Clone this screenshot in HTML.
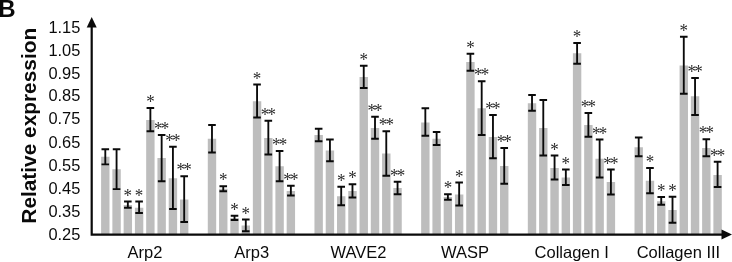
<!DOCTYPE html>
<html><head><meta charset="utf-8"><title>B</title>
<style>html,body{margin:0;padding:0;background:#fff}body{width:732px;height:262px;overflow:hidden}
.t{font-family:"Liberation Sans",sans-serif;fill:#0a0a0a}
.st{font-family:"Liberation Serif",serif;fill:#2c2c2c}
</style></head><body>
<svg width="732" height="262" viewBox="0 0 732 262" style="display:block;will-change:transform">
<rect width="732" height="262" fill="#fff"/>
<rect x="101.10" y="156.75" width="8.4" height="77.85" fill="#bdbdbd"/>
<rect x="112.37" y="169.25" width="8.4" height="65.35" fill="#bdbdbd"/>
<rect x="123.64" y="205.00" width="8.4" height="29.60" fill="#bdbdbd"/>
<rect x="134.91" y="207.75" width="8.4" height="26.85" fill="#bdbdbd"/>
<rect x="146.18" y="120.00" width="8.4" height="114.60" fill="#bdbdbd"/>
<rect x="157.45" y="158.00" width="8.4" height="76.60" fill="#bdbdbd"/>
<rect x="168.72" y="178.25" width="8.4" height="56.35" fill="#bdbdbd"/>
<rect x="179.99" y="199.50" width="8.4" height="35.10" fill="#bdbdbd"/>
<path d="M105.30 149.25V164.40M101.50 149.25H109.10M101.50 164.40H109.10" stroke="#0a0a0a" stroke-width="1.85" fill="none"/>
<path d="M116.57 149.25V189.10M112.77 149.25H120.37M112.77 189.10H120.37" stroke="#0a0a0a" stroke-width="1.85" fill="none"/>
<path d="M127.84 201.50V207.75M124.04 201.50H131.64M124.04 207.75H131.64" stroke="#0a0a0a" stroke-width="1.85" fill="none"/>
<text transform="translate(127.84,192.50) scale(1,1.16)" x="0" y="7.85" text-anchor="middle" font-size="17" class="st">*</text>
<path d="M139.11 201.50V213.00M135.31 201.50H142.91M135.31 213.00H142.91" stroke="#0a0a0a" stroke-width="1.85" fill="none"/>
<text transform="translate(139.11,192.50) scale(1,1.16)" x="0" y="7.85" text-anchor="middle" font-size="17" class="st">*</text>
<path d="M150.38 108.00V131.25M146.58 108.00H154.18M146.58 131.25H154.18" stroke="#0a0a0a" stroke-width="1.85" fill="none"/>
<text transform="translate(150.38,99.00) scale(1,1.16)" x="0" y="7.85" text-anchor="middle" font-size="17" class="st">*</text>
<path d="M161.65 135.00V181.20M157.85 135.00H165.45M157.85 181.20H165.45" stroke="#0a0a0a" stroke-width="1.85" fill="none"/>
<text transform="translate(160.75,126.00) scale(1,1.16)" x="0" y="7.85" text-anchor="middle" font-size="17" letter-spacing="-1.8" class="st">**</text>
<path d="M172.92 146.70V209.00M169.12 146.70H176.72M169.12 209.00H176.72" stroke="#0a0a0a" stroke-width="1.85" fill="none"/>
<text transform="translate(172.02,137.70) scale(1,1.16)" x="0" y="7.85" text-anchor="middle" font-size="17" letter-spacing="-1.8" class="st">**</text>
<path d="M184.19 176.25V222.00M180.39 176.25H187.99M180.39 222.00H187.99" stroke="#0a0a0a" stroke-width="1.85" fill="none"/>
<text transform="translate(183.29,167.25) scale(1,1.16)" x="0" y="7.85" text-anchor="middle" font-size="17" letter-spacing="-1.8" class="st">**</text>
<text x="145.04" y="257.9" text-anchor="middle" font-size="16.5" class="t">Arp2</text>
<rect x="207.78" y="138.75" width="8.4" height="95.85" fill="#bdbdbd"/>
<rect x="219.05" y="188.75" width="8.4" height="45.85" fill="#bdbdbd"/>
<rect x="230.32" y="218.00" width="8.4" height="16.60" fill="#bdbdbd"/>
<rect x="241.59" y="225.50" width="8.4" height="9.10" fill="#bdbdbd"/>
<rect x="252.86" y="101.25" width="8.4" height="133.35" fill="#bdbdbd"/>
<rect x="264.13" y="138.00" width="8.4" height="96.60" fill="#bdbdbd"/>
<rect x="275.40" y="166.25" width="8.4" height="68.35" fill="#bdbdbd"/>
<rect x="286.67" y="191.00" width="8.4" height="43.60" fill="#bdbdbd"/>
<path d="M211.98 125.00V152.50M208.18 125.00H215.78M208.18 152.50H215.78" stroke="#0a0a0a" stroke-width="1.85" fill="none"/>
<path d="M223.25 186.25V191.25M219.45 186.25H227.05M219.45 191.25H227.05" stroke="#0a0a0a" stroke-width="1.85" fill="none"/>
<text transform="translate(223.25,177.25) scale(1,1.16)" x="0" y="7.85" text-anchor="middle" font-size="17" class="st">*</text>
<path d="M234.52 215.75V220.00M230.72 215.75H238.32M230.72 220.00H238.32" stroke="#0a0a0a" stroke-width="1.85" fill="none"/>
<text transform="translate(234.52,206.75) scale(1,1.16)" x="0" y="7.85" text-anchor="middle" font-size="17" class="st">*</text>
<path d="M245.79 219.50V231.25M241.99 219.50H249.59M241.99 231.25H249.59" stroke="#0a0a0a" stroke-width="1.85" fill="none"/>
<text transform="translate(245.79,210.50) scale(1,1.16)" x="0" y="7.85" text-anchor="middle" font-size="17" class="st">*</text>
<path d="M257.06 84.50V117.50M253.26 84.50H260.86M253.26 117.50H260.86" stroke="#0a0a0a" stroke-width="1.85" fill="none"/>
<text transform="translate(257.06,75.50) scale(1,1.16)" x="0" y="7.85" text-anchor="middle" font-size="17" class="st">*</text>
<path d="M268.33 120.75V154.50M264.53 120.75H272.13M264.53 154.50H272.13" stroke="#0a0a0a" stroke-width="1.85" fill="none"/>
<text transform="translate(267.43,111.75) scale(1,1.16)" x="0" y="7.85" text-anchor="middle" font-size="17" letter-spacing="-1.8" class="st">**</text>
<path d="M279.60 151.00V181.25M275.80 151.00H283.40M275.80 181.25H283.40" stroke="#0a0a0a" stroke-width="1.85" fill="none"/>
<text transform="translate(278.70,142.00) scale(1,1.16)" x="0" y="7.85" text-anchor="middle" font-size="17" letter-spacing="-1.8" class="st">**</text>
<path d="M290.87 185.75V195.50M287.07 185.75H294.67M287.07 195.50H294.67" stroke="#0a0a0a" stroke-width="1.85" fill="none"/>
<text transform="translate(289.97,176.75) scale(1,1.16)" x="0" y="7.85" text-anchor="middle" font-size="17" letter-spacing="-1.8" class="st">**</text>
<text x="251.72" y="257.9" text-anchor="middle" font-size="16.5" class="t">Arp3</text>
<rect x="314.46" y="135.00" width="8.4" height="99.60" fill="#bdbdbd"/>
<rect x="325.73" y="150.50" width="8.4" height="84.10" fill="#bdbdbd"/>
<rect x="337.00" y="196.25" width="8.4" height="38.35" fill="#bdbdbd"/>
<rect x="348.27" y="191.00" width="8.4" height="43.60" fill="#bdbdbd"/>
<rect x="359.54" y="77.00" width="8.4" height="157.60" fill="#bdbdbd"/>
<rect x="370.81" y="128.00" width="8.4" height="106.60" fill="#bdbdbd"/>
<rect x="382.08" y="153.50" width="8.4" height="81.10" fill="#bdbdbd"/>
<rect x="393.35" y="188.00" width="8.4" height="46.60" fill="#bdbdbd"/>
<path d="M318.66 128.75V141.25M314.86 128.75H322.46M314.86 141.25H322.46" stroke="#0a0a0a" stroke-width="1.85" fill="none"/>
<path d="M329.93 139.50V161.25M326.13 139.50H333.73M326.13 161.25H333.73" stroke="#0a0a0a" stroke-width="1.85" fill="none"/>
<path d="M341.20 186.75V205.25M337.40 186.75H345.00M337.40 205.25H345.00" stroke="#0a0a0a" stroke-width="1.85" fill="none"/>
<text transform="translate(341.20,177.75) scale(1,1.16)" x="0" y="7.85" text-anchor="middle" font-size="17" class="st">*</text>
<path d="M352.47 184.25V197.50M348.67 184.25H356.27M348.67 197.50H356.27" stroke="#0a0a0a" stroke-width="1.85" fill="none"/>
<text transform="translate(352.47,175.25) scale(1,1.16)" x="0" y="7.85" text-anchor="middle" font-size="17" class="st">*</text>
<path d="M363.74 65.75V88.00M359.94 65.75H367.54M359.94 88.00H367.54" stroke="#0a0a0a" stroke-width="1.85" fill="none"/>
<text transform="translate(363.74,56.75) scale(1,1.16)" x="0" y="7.85" text-anchor="middle" font-size="17" class="st">*</text>
<path d="M375.01 116.75V138.75M371.21 116.75H378.81M371.21 138.75H378.81" stroke="#0a0a0a" stroke-width="1.85" fill="none"/>
<text transform="translate(374.11,107.75) scale(1,1.16)" x="0" y="7.85" text-anchor="middle" font-size="17" letter-spacing="-1.8" class="st">**</text>
<path d="M386.28 131.25V175.75M382.48 131.25H390.08M382.48 175.75H390.08" stroke="#0a0a0a" stroke-width="1.85" fill="none"/>
<text transform="translate(385.38,122.25) scale(1,1.16)" x="0" y="7.85" text-anchor="middle" font-size="17" letter-spacing="-1.8" class="st">**</text>
<path d="M397.55 181.75V194.25M393.75 181.75H401.35M393.75 194.25H401.35" stroke="#0a0a0a" stroke-width="1.85" fill="none"/>
<text transform="translate(396.65,172.75) scale(1,1.16)" x="0" y="7.85" text-anchor="middle" font-size="17" letter-spacing="-1.8" class="st">**</text>
<text x="358.40" y="257.9" text-anchor="middle" font-size="16.5" class="t">WAVE2</text>
<rect x="421.14" y="122.50" width="8.4" height="112.10" fill="#bdbdbd"/>
<rect x="432.41" y="138.75" width="8.4" height="95.85" fill="#bdbdbd"/>
<rect x="443.68" y="197.00" width="8.4" height="37.60" fill="#bdbdbd"/>
<rect x="454.95" y="194.50" width="8.4" height="40.10" fill="#bdbdbd"/>
<rect x="466.22" y="62.00" width="8.4" height="172.60" fill="#bdbdbd"/>
<rect x="477.49" y="108.25" width="8.4" height="126.35" fill="#bdbdbd"/>
<rect x="488.76" y="137.00" width="8.4" height="97.60" fill="#bdbdbd"/>
<rect x="500.03" y="166.00" width="8.4" height="68.60" fill="#bdbdbd"/>
<path d="M425.34 108.25V135.75M421.54 108.25H429.14M421.54 135.75H429.14" stroke="#0a0a0a" stroke-width="1.85" fill="none"/>
<path d="M436.61 132.00V145.00M432.81 132.00H440.41M432.81 145.00H440.41" stroke="#0a0a0a" stroke-width="1.85" fill="none"/>
<path d="M447.88 194.25V199.75M444.08 194.25H451.68M444.08 199.75H451.68" stroke="#0a0a0a" stroke-width="1.85" fill="none"/>
<text transform="translate(447.88,185.25) scale(1,1.16)" x="0" y="7.85" text-anchor="middle" font-size="17" class="st">*</text>
<path d="M459.15 182.50V205.50M455.35 182.50H462.95M455.35 205.50H462.95" stroke="#0a0a0a" stroke-width="1.85" fill="none"/>
<text transform="translate(459.15,173.50) scale(1,1.16)" x="0" y="7.85" text-anchor="middle" font-size="17" class="st">*</text>
<path d="M470.42 53.75V70.75M466.62 53.75H474.22M466.62 70.75H474.22" stroke="#0a0a0a" stroke-width="1.85" fill="none"/>
<text transform="translate(470.42,44.75) scale(1,1.16)" x="0" y="7.85" text-anchor="middle" font-size="17" class="st">*</text>
<path d="M481.69 81.25V135.00M477.89 81.25H485.49M477.89 135.00H485.49" stroke="#0a0a0a" stroke-width="1.85" fill="none"/>
<text transform="translate(480.79,72.25) scale(1,1.16)" x="0" y="7.85" text-anchor="middle" font-size="17" letter-spacing="-1.8" class="st">**</text>
<path d="M492.96 115.00V158.25M489.16 115.00H496.76M489.16 158.25H496.76" stroke="#0a0a0a" stroke-width="1.85" fill="none"/>
<text transform="translate(492.06,106.00) scale(1,1.16)" x="0" y="7.85" text-anchor="middle" font-size="17" letter-spacing="-1.8" class="st">**</text>
<path d="M504.23 148.00V183.75M500.43 148.00H508.03M500.43 183.75H508.03" stroke="#0a0a0a" stroke-width="1.85" fill="none"/>
<text transform="translate(503.33,139.00) scale(1,1.16)" x="0" y="7.85" text-anchor="middle" font-size="17" letter-spacing="-1.8" class="st">**</text>
<text x="465.08" y="257.9" text-anchor="middle" font-size="16.5" class="t">WASP</text>
<rect x="527.82" y="103.25" width="8.4" height="131.35" fill="#bdbdbd"/>
<rect x="539.09" y="128.00" width="8.4" height="106.60" fill="#bdbdbd"/>
<rect x="550.36" y="168.00" width="8.4" height="66.60" fill="#bdbdbd"/>
<rect x="561.63" y="177.50" width="8.4" height="57.10" fill="#bdbdbd"/>
<rect x="572.90" y="53.25" width="8.4" height="181.35" fill="#bdbdbd"/>
<rect x="584.17" y="125.00" width="8.4" height="109.60" fill="#bdbdbd"/>
<rect x="595.44" y="158.75" width="8.4" height="75.85" fill="#bdbdbd"/>
<rect x="606.71" y="182.00" width="8.4" height="52.60" fill="#bdbdbd"/>
<path d="M532.02 95.00V110.75M528.22 95.00H535.82M528.22 110.75H535.82" stroke="#0a0a0a" stroke-width="1.85" fill="none"/>
<path d="M543.29 100.00V155.50M539.49 100.00H547.09M539.49 155.50H547.09" stroke="#0a0a0a" stroke-width="1.85" fill="none"/>
<path d="M554.56 155.50V179.50M550.76 155.50H558.36M550.76 179.50H558.36" stroke="#0a0a0a" stroke-width="1.85" fill="none"/>
<text transform="translate(554.56,146.50) scale(1,1.16)" x="0" y="7.85" text-anchor="middle" font-size="17" class="st">*</text>
<path d="M565.83 169.50V185.00M562.03 169.50H569.63M562.03 185.00H569.63" stroke="#0a0a0a" stroke-width="1.85" fill="none"/>
<text transform="translate(565.83,160.50) scale(1,1.16)" x="0" y="7.85" text-anchor="middle" font-size="17" class="st">*</text>
<path d="M577.10 43.00V63.75M573.30 43.00H580.90M573.30 63.75H580.90" stroke="#0a0a0a" stroke-width="1.85" fill="none"/>
<text transform="translate(577.10,34.00) scale(1,1.16)" x="0" y="7.85" text-anchor="middle" font-size="17" class="st">*</text>
<path d="M588.37 113.00V136.75M584.57 113.00H592.17M584.57 136.75H592.17" stroke="#0a0a0a" stroke-width="1.85" fill="none"/>
<text transform="translate(587.47,104.00) scale(1,1.16)" x="0" y="7.85" text-anchor="middle" font-size="17" letter-spacing="-1.8" class="st">**</text>
<path d="M599.64 139.50V177.50M595.84 139.50H603.44M595.84 177.50H603.44" stroke="#0a0a0a" stroke-width="1.85" fill="none"/>
<text transform="translate(598.74,130.50) scale(1,1.16)" x="0" y="7.85" text-anchor="middle" font-size="17" letter-spacing="-1.8" class="st">**</text>
<path d="M610.91 169.50V194.50M607.11 169.50H614.71M607.11 194.50H614.71" stroke="#0a0a0a" stroke-width="1.85" fill="none"/>
<text transform="translate(610.01,160.50) scale(1,1.16)" x="0" y="7.85" text-anchor="middle" font-size="17" letter-spacing="-1.8" class="st">**</text>
<text x="571.76" y="257.9" text-anchor="middle" font-size="16.5" class="t">Collagen I</text>
<rect x="634.50" y="147.25" width="8.4" height="87.35" fill="#bdbdbd"/>
<rect x="645.77" y="180.75" width="8.4" height="53.85" fill="#bdbdbd"/>
<rect x="657.04" y="201.25" width="8.4" height="33.35" fill="#bdbdbd"/>
<rect x="668.31" y="210.00" width="8.4" height="24.60" fill="#bdbdbd"/>
<rect x="679.58" y="65.50" width="8.4" height="169.10" fill="#bdbdbd"/>
<rect x="690.85" y="96.25" width="8.4" height="138.35" fill="#bdbdbd"/>
<rect x="702.12" y="148.00" width="8.4" height="86.60" fill="#bdbdbd"/>
<rect x="713.39" y="175.00" width="8.4" height="59.60" fill="#bdbdbd"/>
<path d="M638.70 137.50V156.25M634.90 137.50H642.50M634.90 156.25H642.50" stroke="#0a0a0a" stroke-width="1.85" fill="none"/>
<path d="M649.97 168.00V193.25M646.17 168.00H653.77M646.17 193.25H653.77" stroke="#0a0a0a" stroke-width="1.85" fill="none"/>
<text transform="translate(649.97,159.00) scale(1,1.16)" x="0" y="7.85" text-anchor="middle" font-size="17" class="st">*</text>
<path d="M661.24 197.00V204.75M657.44 197.00H665.04M657.44 204.75H665.04" stroke="#0a0a0a" stroke-width="1.85" fill="none"/>
<text transform="translate(661.24,188.00) scale(1,1.16)" x="0" y="7.85" text-anchor="middle" font-size="17" class="st">*</text>
<path d="M672.51 196.75V222.75M668.71 196.75H676.31M668.71 222.75H676.31" stroke="#0a0a0a" stroke-width="1.85" fill="none"/>
<text transform="translate(672.51,187.75) scale(1,1.16)" x="0" y="7.85" text-anchor="middle" font-size="17" class="st">*</text>
<path d="M683.78 36.75V93.75M679.98 36.75H687.58M679.98 93.75H687.58" stroke="#0a0a0a" stroke-width="1.85" fill="none"/>
<text transform="translate(683.78,27.75) scale(1,1.16)" x="0" y="7.85" text-anchor="middle" font-size="17" class="st">*</text>
<path d="M695.05 78.00V115.00M691.25 78.00H698.85M691.25 115.00H698.85" stroke="#0a0a0a" stroke-width="1.85" fill="none"/>
<text transform="translate(694.15,69.00) scale(1,1.16)" x="0" y="7.85" text-anchor="middle" font-size="17" letter-spacing="-1.8" class="st">**</text>
<path d="M706.32 139.25V156.25M702.52 139.25H710.12M702.52 156.25H710.12" stroke="#0a0a0a" stroke-width="1.85" fill="none"/>
<text transform="translate(705.42,130.25) scale(1,1.16)" x="0" y="7.85" text-anchor="middle" font-size="17" letter-spacing="-1.8" class="st">**</text>
<path d="M717.59 161.75V187.00M713.79 161.75H721.39M713.79 187.00H721.39" stroke="#0a0a0a" stroke-width="1.85" fill="none"/>
<text transform="translate(716.69,152.75) scale(1,1.16)" x="0" y="7.85" text-anchor="middle" font-size="17" letter-spacing="-1.8" class="st">**</text>
<text x="678.44" y="257.9" text-anchor="middle" font-size="16.5" class="t">Collagen III</text>
<path d="M91.7 24V234.6H724" stroke="#0a0a0a" stroke-width="2.2" fill="none"/>
<path d="M86.7 27.5L91.7 17L96.7 27.5Z" fill="#0a0a0a"/>
<path d="M721.5 229.6L732 234.6L721.5 239.6Z" fill="#0a0a0a"/>
<text x="80.3" y="240.20" text-anchor="end" font-size="16.4" class="t">0.25</text>
<text x="80.3" y="217.10" text-anchor="end" font-size="16.4" class="t">0.35</text>
<text x="80.3" y="194.00" text-anchor="end" font-size="16.4" class="t">0.45</text>
<text x="80.3" y="170.90" text-anchor="end" font-size="16.4" class="t">0.55</text>
<text x="80.3" y="147.50" text-anchor="end" font-size="16.4" class="t">0.65</text>
<text x="80.3" y="123.60" text-anchor="end" font-size="16.4" class="t">0.75</text>
<text x="80.3" y="101.00" text-anchor="end" font-size="16.4" class="t">0.85</text>
<text x="80.3" y="78.90" text-anchor="end" font-size="16.4" class="t">0.95</text>
<text x="80.3" y="56.00" text-anchor="end" font-size="16.4" class="t">1.05</text>
<text x="80.3" y="32.50" text-anchor="end" font-size="16.4" class="t">1.15</text>
<text transform="translate(36.1,125.75) rotate(-90)" text-anchor="middle" font-size="20.85" font-weight="bold" class="t">Relative expression</text>
<text x="-1.7" y="17.3" font-size="24" font-weight="bold" class="t">B</text>
</svg>
</body></html>
